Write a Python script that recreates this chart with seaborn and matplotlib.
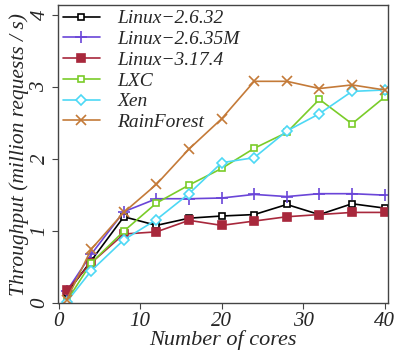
import pandas as pd
import matplotlib
matplotlib.use('Agg')
from matplotlib import pyplot as plt
import seaborn as sns

cores = [1, 4, 8, 12, 16, 20, 24, 28, 32, 36, 40]
linux_2632 = [0.14, 0.59, 1.20, 1.08, 1.18, 1.21, 1.23, 1.37, 1.23, 1.38, 1.32]
linux_2635m = [0.17, 0.68, 1.27, 1.45, 1.45, 1.46, 1.51, 1.48, 1.52, 1.52, 1.50]
linux_3174 = [0.18, 0.56, 0.96, 0.99, 1.15, 1.08, 1.14, 1.20, 1.23, 1.26, 1.26]
lxc = [0.03, 0.56, 1.00, 1.39, 1.64, 1.87, 2.15, 2.37, 2.83, 2.49, 2.86]
xen = [0.02, 0.45, 0.88, 1.16, 1.52, 1.95, 2.02, 2.39, 2.63, 2.94, 2.96]
rainforest = [0.05, 0.75, 1.26, 1.65, 2.14, 2.56, 3.08, 3.08, 2.98, 3.03, 2.96]

systems = ['Linux\u22122.6.32', 'Linux\u22122.6.35M', 'Linux\u22123.17.4', 'LXC', 'Xen', 'RainForest']
series = [linux_2632, linux_2635m, linux_3174, lxc, xen, rainforest]

# style per series: colour, marker, filled?, size
styles = {
    'Linux\u22122.6.32': ('#000000', 's', False, 5),
    'Linux\u22122.6.35M': ('#6a45d8', '+', True, 9),
    'Linux\u22123.17.4': ('#a8283c', 's', True, 5.5),
    'LXC': ('#7acc29', 's', False, 5),
    'Xen': ('#4dd8f5', 'D', False, 5),
    'RainForest': ('#c47a38', 'x', True, 7),
}

df = pd.concat([
    pd.DataFrame({'cores': cores, 'throughput': vals, 'system': name})
    for name, vals in zip(systems, series)
])

sns.set_style('ticks')
plt.rcParams['font.family'] = ['Liberation Serif', 'DejaVu Serif']
plt.rcParams['font.style'] = 'italic'

fig = plt.figure(figsize=(3.99, 3.55), dpi=100)
ax = fig.add_axes([0.145, 0.146, 0.827, 0.84])

for name in systems:
    color, marker, filled, ms = styles[name]
    sub = df[df['system'] == name]
    sns.lineplot(data=sub, x='cores', y='throughput', ax=ax, color=color,
                 marker=marker, markersize=ms, linewidth=1.2,
                 markerfacecolor=color if filled else 'white',
                 markeredgecolor=color, markeredgewidth=1.2, label=name)

ax.set_xlim(-0.1, 40.4)
ax.set_ylim(0, 4.14)
ax.set_xticks([0, 10, 20, 30, 40])
ax.set_yticks([0, 1, 2, 3, 4])
ax.tick_params(labelsize=15, direction='out', length=4, color='#444444', pad=2)
plt.setp(ax.get_yticklabels(), rotation=90, va='center')
for s in ax.spines.values():
    s.set_color('#444444')
    s.set_linewidth(1.0)

ax.set_xlabel('Number of cores', fontsize=16, labelpad=0)
ax.set_ylabel('Throughput (million requests / s)', fontsize=15.5, labelpad=1)

ax.legend(loc='upper left', frameon=False, fontsize=14, handlelength=1.9,
          borderaxespad=0.1, labelspacing=0.16, handletextpad=0.9,
          borderpad=0.15)

fig.savefig('out.png', dpi=100)
